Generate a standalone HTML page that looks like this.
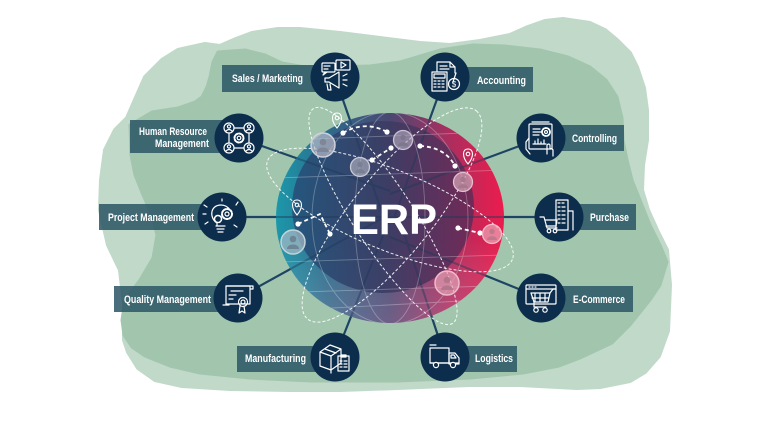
<!DOCTYPE html>
<html><head><meta charset="utf-8"><style>
html,body{margin:0;padding:0;background:#fff;}
svg{display:block;}
text{font-family:"Liberation Sans",Arial,sans-serif;font-weight:bold;fill:#fff;}
</style></head><body>
<svg width="770" height="424" viewBox="0 0 770 424" xmlns="http://www.w3.org/2000/svg">
<defs>
<linearGradient id="gOuter" x1="0" y1="0" x2="1" y2="0">
<stop offset="0" stop-color="#1c98aa"/><stop offset="0.22" stop-color="#2d6c8c"/>
<stop offset="0.5" stop-color="#4a4872"/><stop offset="0.75" stop-color="#a82f5f"/>
<stop offset="1" stop-color="#ec1c4d"/></linearGradient>
<linearGradient id="gInner" x1="0" y1="0" x2="1" y2="0">
<stop offset="0" stop-color="#25527a"/><stop offset="0.5" stop-color="#3a3d64"/>
<stop offset="1" stop-color="#6a2a57"/></linearGradient>
<linearGradient id="gBot" x1="0" y1="0" x2="0" y2="1">
<stop offset="0.6" stop-color="#fff" stop-opacity="0"/><stop offset="1" stop-color="#f0b0d0" stop-opacity="0.22"/></linearGradient>
<clipPath id="globeClip"><ellipse cx="390" cy="218" rx="114" ry="105"/></clipPath>
</defs>

<!-- background blobs -->
<polygon fill="#c1d9c9" stroke="#c1d9c9" stroke-width="4" stroke-linejoin="round" points="127,118 145,77 162,60 178,50 205,44 220,46 236,39 252,33 278,29 300,29 340,33 380,38 420,43 450,45 480,41 510,35 528,27 545,21 563,19 590,23 605,30 617,40 630,53 637,67 644,88 647,110 647,140 643,165 642,190 648,210 657,230 667,250 670,285 668,331 659,356 645,372 630,381 600,387 577,388 520,385 469,385 397,388 340,390 289,390 230,389 182,386 155,380 138,368 128,352 124,340 124,305 120,270 108,245 100,210 101,180 105,150 115,130"/>
<polygon fill="#a2c5ad" stroke="#a2c5ad" stroke-width="3" stroke-linejoin="round" points="130,125 152,112 178,108 195,102 202,97 207,87 210,77 213,62 218,52 245,50 265,55 282,63 305,67 330,67 370,66 400,62 420,56 440,50 473,45 505,46 540,50 568,57 590,67 606,80 617,97 622,118 623,140 627,160 632,180 640,200 650,225 660,245 667,262 660,285 650,300 630,325 612,343 580,358 559,366 523,373 470,378 397,381 311,381 250,378 200,373 170,366 145,356 132,347 124,335 122,320 125,300 140,280 153,258 157,235 152,215 143,195 135,175 131,155"/>

<!-- connectors -->
<g stroke="#1e4464" stroke-width="2.2" stroke-linecap="round">
<line x1="335" y1="77" x2="384" y2="218"/>
<line x1="239" y1="138" x2="390" y2="191"/>
<line x1="222" y1="217" x2="390" y2="217"/>
<line x1="238" y1="298" x2="390" y2="214"/>
<line x1="335" y1="357" x2="390" y2="218"/>
<line x1="445" y1="77" x2="394" y2="218"/>
<line x1="541" y1="138" x2="390" y2="194"/>
<line x1="559" y1="217" x2="390" y2="217"/>
<line x1="541" y1="298" x2="390" y2="237"/>
<line x1="445" y1="357" x2="399" y2="218"/>
</g>

<!-- globe -->
<ellipse cx="390" cy="218" rx="114" ry="105" fill="url(#gOuter)"/>
<ellipse cx="390" cy="218" rx="114" ry="105" fill="url(#gBot)"/>
<ellipse cx="383" cy="207" rx="91" ry="86" fill="url(#gInner)" opacity="0.92"/>
<g clip-path="url(#globeClip)">
<g stroke="#1e3a5a" stroke-width="2" opacity="0.45">
<line x1="335" y1="77" x2="384" y2="218"/>
<line x1="239" y1="138" x2="390" y2="191"/>
<line x1="222" y1="217" x2="390" y2="217"/>
<line x1="238" y1="298" x2="390" y2="214"/>
<line x1="335" y1="357" x2="390" y2="218"/>
<line x1="445" y1="77" x2="394" y2="218"/>
<line x1="541" y1="138" x2="390" y2="194"/>
<line x1="559" y1="217" x2="390" y2="217"/>
<line x1="541" y1="298" x2="390" y2="237"/>
<line x1="445" y1="357" x2="399" y2="218"/>
</g>
<g stroke="#ffffff" stroke-width="0.9" fill="none" opacity="0.28">
<ellipse cx="390" cy="218" rx="35" ry="106"/>
<ellipse cx="390" cy="218" rx="78" ry="106"/>
<line x1="290" y1="140" x2="490" y2="132"/>
<line x1="276" y1="178" x2="505" y2="170"/>
<line x1="280" y1="262" x2="505" y2="255"/>
<line x1="300" y1="292" x2="490" y2="286"/>
<line x1="296" y1="310" x2="480" y2="300"/>
</g>
</g>

<!-- dashed orbits -->
<g fill="none" stroke="#ffffff" stroke-width="1" stroke-dasharray="3 2" opacity="0.9">
<ellipse cx="390" cy="210" rx="132" ry="40" transform="rotate(22 390 210)"/>
<ellipse cx="383" cy="216" rx="128" ry="30" transform="rotate(57 383 216)"/>
<ellipse cx="392" cy="215" rx="134" ry="40" transform="rotate(-51 392 215)"/>
</g>

<!-- ERP -->
<text x="394" y="234" font-size="43" text-anchor="middle" textLength="86" lengthAdjust="spacingAndGlyphs">ERP</text>

<!-- dotted path connections -->
<g fill="none" stroke="#ffffff" stroke-width="1.8" stroke-dasharray="4 3">
<path d="M343,133 Q365,120 387,132"/>
<path d="M372,160 L391,148"/>
<path d="M420,146 Q445,147 455,166"/>
<path d="M298,224 L320,214 L330,234"/>
<path d="M458,228 L480,233"/>
</g>
<g fill="#ffffff">
<circle cx="343" cy="133" r="2.6"/><circle cx="387" cy="132" r="2.6"/>
<circle cx="372" cy="160" r="2.6"/><circle cx="391" cy="148" r="2.6"/>
<circle cx="420" cy="146" r="2.6"/><circle cx="455" cy="166" r="2.6"/>
<circle cx="298" cy="224" r="2.6"/><circle cx="330" cy="234" r="2.6"/>
<circle cx="458" cy="228" r="2.6"/><circle cx="480" cy="233" r="2.6"/>
</g>

<!-- pins -->
<g fill="none" stroke="#ffffff" stroke-width="1.1">
<g transform="translate(337,120)"><path d="M0,8 C-6,1 -6,-7 0,-7 C6,-7 6,1 0,8 Z"/><circle cx="0" cy="-2" r="1.8"/></g>
<g transform="translate(468,156)"><path d="M0,8 C-6,1 -6,-7 0,-7 C6,-7 6,1 0,8 Z"/><circle cx="0" cy="-2" r="1.8"/></g>
<g transform="translate(297,207)"><path d="M0,8 C-6,1 -6,-7 0,-7 C6,-7 6,1 0,8 Z"/><circle cx="0" cy="-2" r="1.8"/></g>
</g>

<!-- persons -->
<g>
<g transform="translate(323,145)"><circle r="12" fill="#b8bac8" fill-opacity="0.7" stroke="#cfd1dc" stroke-width="1.5"/><circle cy="-3" r="3.3" fill="#7f8698"/><path d="M-6,7 C-6,1 6,1 6,7 Z" fill="#7f8698"/></g>
<g transform="translate(360,167)"><circle r="9.5" fill="#b0b2c2" fill-opacity="0.65" stroke="#c8cad6" stroke-width="1.3"/><circle cy="-2.5" r="2.7" fill="#7a8092"/><path d="M-5,6 C-5,1 5,1 5,6 Z" fill="#7a8092"/></g>
<g transform="translate(403,140)"><circle r="9.5" fill="#b0a8bb" fill-opacity="0.65" stroke="#c8c2d2" stroke-width="1.3"/><circle cy="-2.5" r="2.7" fill="#7d7890"/><path d="M-5,6 C-5,1 5,1 5,6 Z" fill="#7d7890"/></g>
<g transform="translate(463,182)"><circle r="9.5" fill="#d8a6b8" fill-opacity="0.7" stroke="#e2bfcc" stroke-width="1.3"/><circle cy="-2.5" r="2.7" fill="#a47a8c"/><path d="M-5,6 C-5,1 5,1 5,6 Z" fill="#a47a8c"/></g>
<g transform="translate(293,242)"><circle r="12" fill="#a8bcc6" fill-opacity="0.7" stroke="#c4d2da" stroke-width="1.5"/><circle cy="-3" r="3.3" fill="#6f8595"/><path d="M-6,7 C-6,1 6,1 6,7 Z" fill="#6f8595"/></g>
<g transform="translate(492,234)"><circle r="9.5" fill="#eba0b2" fill-opacity="0.75" stroke="#f2bccb" stroke-width="1.3"/><circle cy="-2.5" r="2.7" fill="#c0788c"/><path d="M-5,6 C-5,1 5,1 5,6 Z" fill="#c0788c"/></g>
<g transform="translate(447,283)"><circle r="12" fill="#e2a0b4" fill-opacity="0.7" stroke="#ecbccb" stroke-width="1.5"/><circle cy="-3" r="3.3" fill="#b2778c"/><path d="M-6,7 C-6,1 6,1 6,7 Z" fill="#b2778c"/></g>
</g>

<!-- label boxes -->
<g fill="#2a5565" fill-opacity="0.85">
<rect x="222" y="65" width="113" height="27"/>
<rect x="130" y="120" width="109" height="33"/>
<rect x="99" y="204" width="123" height="26"/>
<rect x="114" y="286" width="124" height="26"/>
<rect x="237" y="346" width="98" height="26"/>
<rect x="445" y="67" width="88" height="25"/>
<rect x="541" y="125" width="83" height="26"/>
<rect x="559" y="204" width="77" height="26"/>
<rect x="541" y="286" width="92" height="26"/>
<rect x="445" y="346" width="72" height="26"/>
</g>
<g font-size="11">
<text x="232" y="82" textLength="71" lengthAdjust="spacingAndGlyphs">Sales / Marketing</text>
<text x="139" y="135" textLength="68" lengthAdjust="spacingAndGlyphs">Human Resource</text>
<text x="155" y="147" textLength="54" lengthAdjust="spacingAndGlyphs">Management</text>
<text x="108" y="221" textLength="86" lengthAdjust="spacingAndGlyphs">Project Management</text>
<text x="124" y="303" textLength="87" lengthAdjust="spacingAndGlyphs">Quality Management</text>
<text x="245" y="362" textLength="61" lengthAdjust="spacingAndGlyphs">Manufacturing</text>
<text x="477" y="84" textLength="49" lengthAdjust="spacingAndGlyphs">Accounting</text>
<text x="572" y="142" textLength="45" lengthAdjust="spacingAndGlyphs">Controlling</text>
<text x="590" y="221" textLength="39" lengthAdjust="spacingAndGlyphs">Purchase</text>
<text x="573" y="303" textLength="52" lengthAdjust="spacingAndGlyphs">E-Commerce</text>
<text x="475" y="362" textLength="38" lengthAdjust="spacingAndGlyphs">Logistics</text>
</g>

<!-- node circles -->
<g fill="#0c2d4c">
<circle cx="335" cy="77" r="24.5"/><circle cx="239" cy="138" r="24.5"/>
<circle cx="222" cy="217" r="24.5"/><circle cx="238" cy="298" r="24.5"/>
<circle cx="335" cy="357" r="24.5"/><circle cx="445" cy="77" r="24.5"/>
<circle cx="541" cy="138" r="24.5"/><circle cx="559" cy="217" r="24.5"/>
<circle cx="541" cy="298" r="24.5"/><circle cx="445" cy="357" r="24.5"/>
</g>

<!-- icons -->
<g fill="none" stroke="#ffffff" stroke-width="1.2" stroke-linejoin="round" stroke-linecap="round">
<!-- Sales -->
<g transform="translate(335,77)">
<rect x="-13" y="-14" width="13" height="9" rx="1"/><path d="M-11,-11 h6 M-11,-8 h4 M-10,-5 l-2,3 l4,-3"/>
<rect x="1" y="-17" width="14" height="10" rx="1"/><path d="M6,-15 L11,-12 L6,-9 Z"/>
<path d="M-10,1 h4 l10,-6 v16 l-10,-6 h-4 z M-8,7 l1,6 h3 l-1,-6 M8,-1 l4,-2 M8,3 h4 M8,7 l4,2"/>
</g>
<!-- HRM -->
<g transform="translate(239,138)">
<circle cx="-10" cy="-10" r="5"/><circle cx="10" cy="-10" r="5"/><circle cx="-10" cy="10" r="5"/><circle cx="10" cy="10" r="5"/>
<circle cx="-10" cy="-11.5" r="1.6"/><circle cx="10" cy="-11.5" r="1.6"/><circle cx="-10" cy="8.5" r="1.6"/><circle cx="10" cy="8.5" r="1.6"/>
<path d="M-13,-7 q3,-3 6,0 M7,-7 q3,-3 6,0 M-13,13 q3,-3 6,0 M7,13 q3,-3 6,0"/>
<path d="M-5,-10 h10 M-5,10 h10 M-10,-5 v10 M10,-5 v10"/>
<circle r="4.5" stroke-dasharray="2 1.5" stroke-width="2"/><circle r="1.8"/>
</g>
<!-- Project -->
<g transform="translate(222,217)">
<path d="M-5,9 v-3 C-13,1 -12,-12 -1,-12 C3,-12 6,-10 8,-7"/>
<path d="M-6,9 h9 M-5,12 h7 M-4,15 h5"/>
<circle cx="5" cy="-3" r="5" stroke-dasharray="2 1.4" stroke-width="2"/><circle cx="5" cy="-3" r="2"/>
<circle cx="-4" cy="2" r="3.5" stroke-dasharray="1.6 1.2" stroke-width="1.6"/>
<path d="M-15,-10 l-3,-2 M-16,-3 h-3 M-14,5 l-3,2 M12,8 l3,2 M14,-12 l2,-3 M0,-16 v-2"/>
</g>
<!-- Quality -->
<g transform="translate(238,298)">
<rect x="-12" y="-12" width="24" height="18"/><path d="M-12,-12 h27 v3 h-3"/>
<path d="M-7,-7 h12 M-9,-3 h7 M-9,1 h4 M-15,7 h6"/>
<circle cx="5" cy="4" r="4.5" stroke-dasharray="2 1"/><circle cx="5" cy="4" r="2"/>
<path d="M2,8 l-1,7 l3,-2 l3,2 l-1,-7"/>
</g>
<!-- Manufacturing -->
<g transform="translate(335,357)">
<path d="M-15,-5 l10,-7 l11,4 v14 l-10,7 l-11,-4 z M-15,-5 l11,4 l10,-7 M-4,-1 v17 M-10,-8 l11,4"/>
<rect x="3" y="-1" width="11" height="15"/><path d="M6,-2 h5 v2 h-5 z M5,4 h2 M9,4 h3 M5,7 h2 M9,7 h3 M5,10 h2 M9,10 h3"/>
</g>
<!-- Accounting -->
<g transform="translate(445,77)">
<path d="M-8,-15 h13 l5,5 v6 M-8,-15 v9 M5,-15 v5 h5 M-5,-11 h7 M-5,-8 h9"/>
<rect x="-13" y="-5" width="15" height="19"/><rect x="-11" y="-3" width="11" height="4"/>
<path d="M-11,4 h2 M-7,4 h2 M-3,4 h2 M-11,7 h2 M-7,7 h2 M-3,7 h2 M-11,10 h2 M-7,10 h2 M-3,10 h2"/>
<circle cx="9" cy="7" r="5.5"/><path d="M11,-4 l-3,9"/>
<text x="9" y="10" font-size="8" text-anchor="middle" stroke="none" style="font-weight:normal">$</text>
</g>
<!-- Controlling -->
<g transform="translate(541,138)">
<rect x="-12" y="-14" width="23" height="25" rx="1"/><path d="M-9,-16 h17"/>
<path d="M-8,-9 h7 M-8,-6 h9 M-8,-3 h6"/>
<circle cx="5" cy="-6" r="4" stroke-dasharray="1.8 1.2" stroke-width="1.8"/><circle cx="5" cy="-6" r="1.5"/>
<path d="M-6,6 v-3 M-3,6 v-5 M0,6 v-2 M3,6 v-4 M-8,6 h13"/>
<path d="M-12,0 l-3,4 v7 l4,5 M6,16 v-9 q2,-2 3,0 v4 q2,-1 3,1 v6"/>
</g>
<!-- Purchase -->
<g transform="translate(559,217)">
<rect x="-3" y="-17" width="12" height="30"/><path d="M9,-6 h5 v19"/>
<path d="M-1,-14 h2 M3,-14 h2 M-1,-10 h2 M3,-10 h3 M-1,-6 h2 M3,-6 h3 M-1,-2 h2 M3,-2 h3 M-1,2 h2 M3,2 h3 M-1,6 h2 M3,6 h3"/>
<path d="M-19,0 h4 l3,11 h10 M-14,3 h12 l-1,6 h-10"/>
<circle cx="-10" cy="14" r="1.8"/><circle cx="-4" cy="14" r="1.8"/>
</g>
<!-- E-Commerce -->
<g transform="translate(541,298)">
<rect x="-15" y="-13" width="30" height="19" rx="1"/><path d="M-15,-9 h30 M-12,-11 h1 M-9,-11 h1 M-6,-11 h1"/>
<path d="M-10,-5 h19 l-2,9 h-14 z M-6,-5 v9 M-1,-5 v9 M4,-5 v9 M-9,0 h17 M9,-5 l3,-4 h3"/>
<path d="M-7,4 v5 h12"/>
<circle cx="-5" cy="12" r="2.2"/><circle cx="4" cy="12" r="2.2"/>
</g>
<!-- Logistics -->
<g transform="translate(445,357)">
<path d="M-15,-12 h6"/><rect x="-15" y="-9" width="19" height="15"/>
<path d="M4,-4 h6 l4,5 v6 h-10 z M6,-2 h3 l2,3 h-5 z"/>
<path d="M-15,6 h29"/>
<circle cx="-9" cy="8" r="2.6" fill="#0c2d4c"/><circle cx="8" cy="8" r="2.6" fill="#0c2d4c"/>
</g>
</g>
</svg>
</body></html>
